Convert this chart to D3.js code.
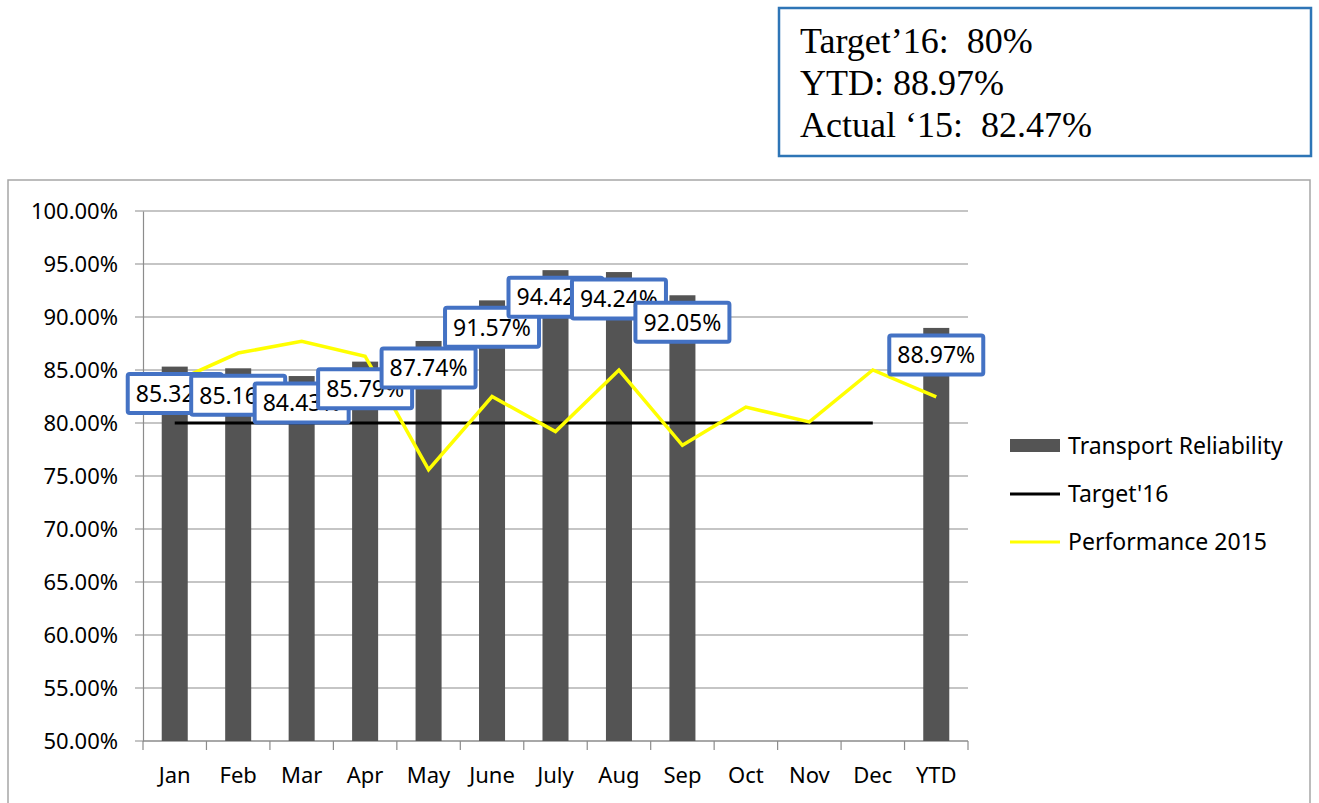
<!DOCTYPE html>
<html>
<head>
<meta charset="utf-8">
<script src="https://cdn.jsdelivr.net/npm/d3@7"></script>
<style>
  body { margin: 0; background: #fff; }
  svg { display: block; }
</style>
</head>
<body>
<svg id="chart" width="1319" height="803"></svg>
<script>
// data
const months = ["Jan", "Feb", "Mar", "Apr", "May", "June", "July", "Aug", "Sep", "Oct", "Nov", "Dec", "YTD"];
const reliability = [0.8532, 0.8516, 0.8443, 0.8579, 0.8774, 0.9157, 0.9442, 0.9424, 0.9205, null, null, null, 0.8897];
const target16 = [0.80, 0.80, 0.80, 0.80, 0.80, 0.80, 0.80, 0.80, 0.80, 0.80, 0.80, 0.80, null];
const perf2015 = [0.839, 0.866, 0.877, 0.863, 0.756, 0.825, 0.792, 0.850, 0.779, 0.815, 0.801, 0.850, 0.8247];
const yTicks = [0.50, 0.55, 0.60, 0.65, 0.70, 0.75, 0.80, 0.85, 0.90, 0.95, 1.00];
const infoLines = ["Target\u201916:  80%", "YTD: 88.97%", "Actual \u201815:  82.47%"];
const legendItems = ["Transport Reliability", "Target'16", "Performance 2015"];

const svg = d3.select("#chart");
const font = "'Noto Sans', sans-serif";

const plotLeft = 143, plotRight = 968, plotTop = 211, plotBottom = 741;

const x = d3.scaleBand().domain(months).range([plotLeft, plotRight]).padding(0);
const y = d3.scaleLinear().domain([0.5, 1.0]).range([plotBottom, plotTop]);
const barW = x.bandwidth() * 0.41;
const cx = d => x(d) + x.bandwidth() / 2;

// outer chart frame
svg.append("rect")
    .attr("x", 8).attr("y", 180)
    .attr("width", 1302).attr("height", 660)
    .attr("fill", "none").attr("stroke", "#a6a6a6").attr("stroke-width", 1.5);

// info box top right
svg.append("rect")
    .attr("x", 779).attr("y", 8)
    .attr("width", 532).attr("height", 148)
    .attr("fill", "#fff").attr("stroke", "#2e75b6").attr("stroke-width", 2.5);

svg.selectAll(".info")
    .data(infoLines)
    .join("text")
    .attr("class", "info")
    .attr("x", 800)
    .attr("y", (d, i) => 53 + i * 42)
    .style("font-family", "'Liberation Serif', 'Times New Roman', serif")
    .style("font-size", "36px")
    .style("white-space", "pre")
    .attr("fill", "#000")
    .text(d => d);

// gridlines
svg.selectAll(".grid")
    .data(yTicks)
    .join("line")
    .attr("class", "grid")
    .attr("x1", plotLeft - 8).attr("x2", plotRight)
    .attr("y1", d => y(d)).attr("y2", d => y(d))
    .attr("stroke", "#8c8c8c").attr("stroke-width", 1.2);

// y axis
const yAxis = d3.axisLeft(y).tickValues(yTicks).tickFormat(d3.format(".2%")).tickSize(0).tickPadding(25);
const yg = svg.append("g").attr("transform", `translate(${plotLeft},0)`).call(yAxis);
yg.select(".domain").attr("stroke", "#8c8c8c").attr("stroke-width", 1.2);
yg.selectAll("text").style("font-family", font).style("font-size", "22px").attr("fill", "#000");

// x axis: ticks at category boundaries
const xg = svg.append("g").attr("transform", `translate(0,${plotBottom})`);
xg.append("line").attr("x1", plotLeft).attr("x2", plotRight).attr("stroke", "#8c8c8c").attr("stroke-width", 1.2);
xg.selectAll(".xtick")
    .data(months.map(m => x(m)).concat([plotRight]))
    .join("line")
    .attr("class", "xtick")
    .attr("x1", d => d).attr("x2", d => d)
    .attr("y1", 0).attr("y2", 9)
    .attr("stroke", "#8c8c8c").attr("stroke-width", 1.2);
xg.selectAll(".xlab")
    .data(months)
    .join("text")
    .attr("class", "xlab")
    .attr("x", d => cx(d))
    .attr("y", 34)
    .attr("dy", "0.35em")
    .attr("text-anchor", "middle")
    .style("font-family", font).style("font-size", "22px")
    .attr("fill", "#000")
    .text(d => d);

// bars
const barData = months.map((m, i) => ({ m, v: reliability[i] })).filter(d => d.v != null);
svg.selectAll(".bar")
    .data(barData)
    .join("rect")
    .attr("class", "bar")
    .attr("x", d => cx(d.m) - barW / 2)
    .attr("y", d => y(d.v))
    .attr("width", barW)
    .attr("height", d => plotBottom - y(d.v))
    .attr("fill", "#545454");

// target line and 2015 line
const line = d3.line()
    .defined(d => d.v != null)
    .x(d => cx(d.m))
    .y(d => y(d.v));

svg.append("path")
    .datum(months.map((m, i) => ({ m, v: target16[i] })))
    .attr("d", line)
    .attr("fill", "none").attr("stroke", "#000").attr("stroke-width", 3);

svg.append("path")
    .datum(months.map((m, i) => ({ m, v: perf2015[i] })))
    .attr("d", line)
    .attr("fill", "none").attr("stroke", "#ffff00").attr("stroke-width", 3.5);

// data labels (inside end, boxed) - they overlap like in the original
const boxW = 94, boxH = 39;
const lab = svg.selectAll(".dlabel")
    .data(barData)
    .join("g")
    .attr("class", "dlabel")
    .attr("transform", d => `translate(${cx(d.m)},${y(d.v) + 27})`);
lab.append("rect")
    .attr("x", -boxW / 2).attr("y", -boxH / 2)
    .attr("width", boxW).attr("height", boxH)
    .attr("rx", 2)
    .attr("fill", "#fff").attr("stroke", "#4472c4").attr("stroke-width", 4);
lab.append("text")
    .attr("text-anchor", "middle")
    .attr("dy", "0.36em")
    .style("font-family", font).style("font-size", "23px")
    .attr("fill", "#000")
    .text(d => d3.format(".2%")(d.v));

// legend
const lg = svg.selectAll(".legend")
    .data(legendItems)
    .join("g")
    .attr("class", "legend")
    .attr("transform", (d, i) => `translate(1010,${446 + i * 48})`);
lg.each(function(d, i) {
    const g = d3.select(this);
    if (i === 0) {
        g.append("rect").attr("x", 0).attr("y", -7).attr("width", 50).attr("height", 13).attr("fill", "#545454");
    } else {
        g.append("line").attr("x1", 0).attr("x2", 50)
            .attr("stroke", i === 1 ? "#000" : "#ffff00").attr("stroke-width", 3);
    }
    g.append("text")
        .attr("x", 58).attr("dy", "0.35em")
        .style("font-family", font).style("font-size", "23px")
        .attr("fill", "#000")
        .text(d);
});
</script>
</body>
</html>
